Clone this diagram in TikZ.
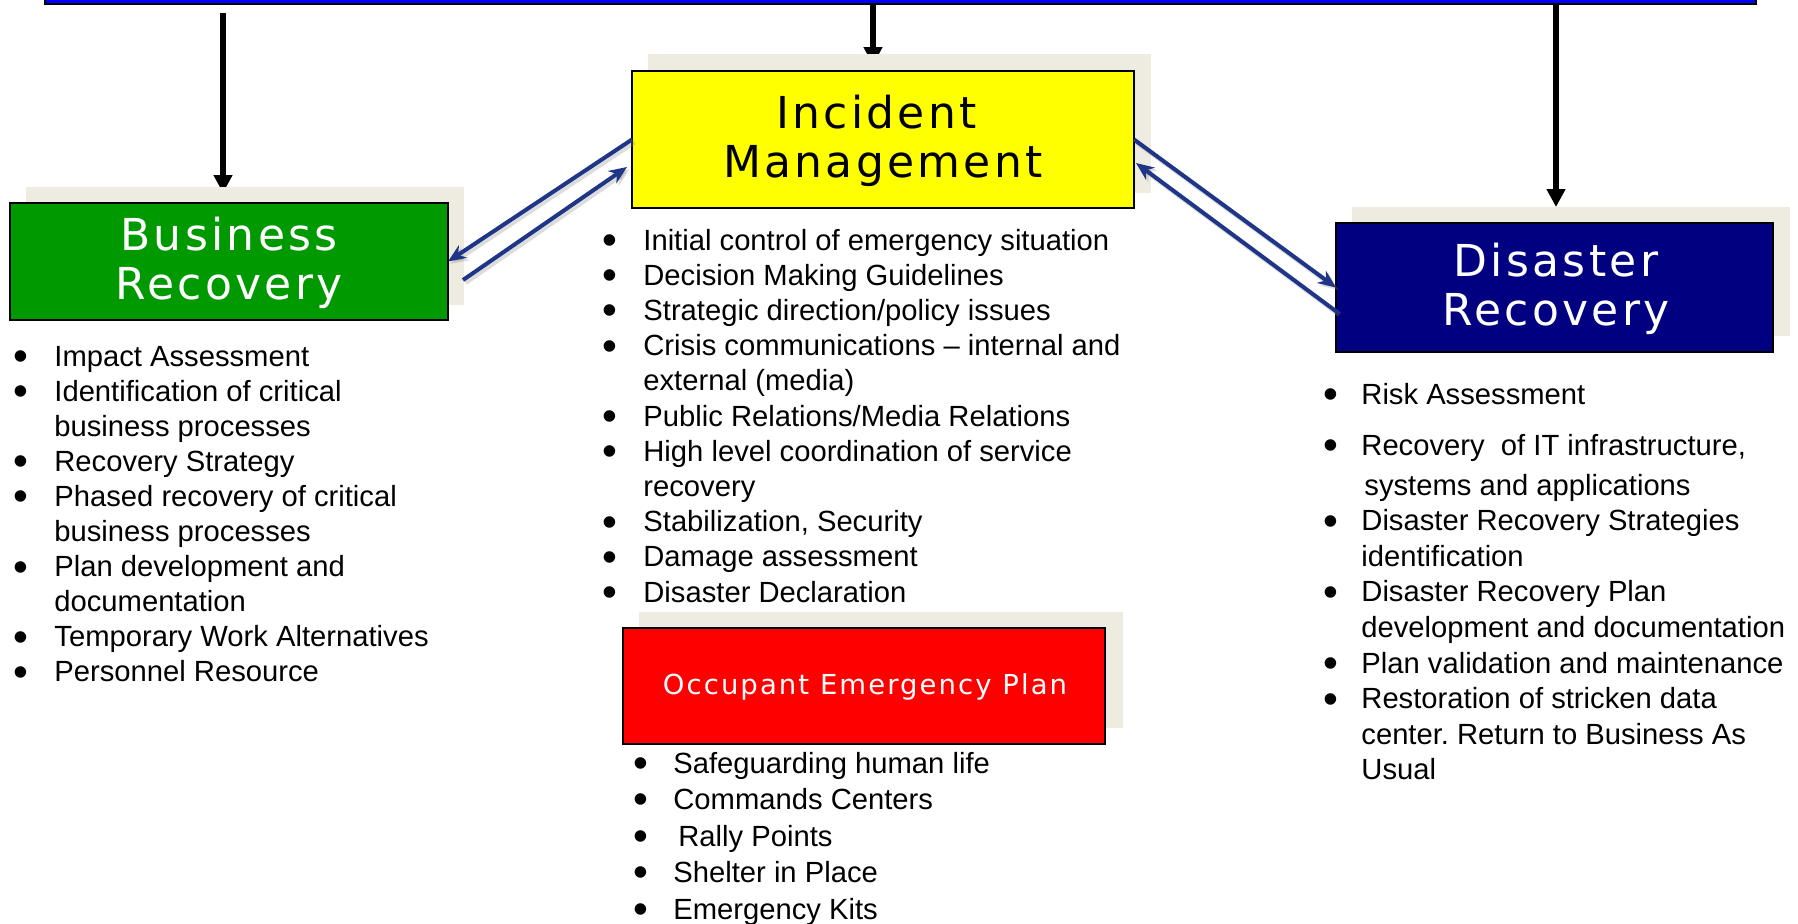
\documentclass[tikz,border=0pt]{standalone}
\usepackage{fontspec}
\setmainfont{Liberation Sans}
\newfontfamily\boxfont[LetterSpace=7.5]{DejaVu Sans}
\usetikzlibrary{arrows.meta,calc}
\definecolor{barblue}{RGB}{0,0,255}
\definecolor{brgreen}{RGB}{0,153,0}
\definecolor{imyellow}{RGB}{255,255,0}
\definecolor{drnavy}{RGB}{0,0,128}
\definecolor{oepred}{RGB}{255,0,0}
\definecolor{shadowgray}{RGB}{238,236,225}
\definecolor{arrowblue}{RGB}{31,53,135}
\newcommand{\bul}[1]{\makebox[#1][l]{\raisebox{-2.2pt}{\scalebox{1.45}{\textbullet}}}}
\frenchspacing
\begin{document}
\begin{tikzpicture}[x=0.5pt,y=-0.5pt,
  box/.style={draw=black,line width=1pt,inner sep=0pt,outer sep=0pt},
  shadowbox/.style={fill=shadowgray,inner sep=0pt,outer sep=0pt},
  blk/.style={line width=3pt,-{Triangle[width=9pt,length=9pt]}},
  bluearrow/.style={arrowblue,line width=2pt,-{Stealth[length=9pt,width=7.5pt]}},
  blueshadow/.style={black!45,opacity=0.3,line width=2.6pt,-{Stealth[length=9pt,width=7.5pt]},transform canvas={xshift=1.2pt,yshift=-1.2pt}},
  title/.style={inner sep=0pt,anchor=base,font=\boxfont\fontsize{22pt}{24.5pt}\selectfont},
  list/.style={inner sep=0pt,anchor=base west}
]
\useasboundingbox (0,0) rectangle (1798,923);
\clip (0,0) rectangle (1798,923);
\fill[white] (0,0) rectangle (1798,923);

% top bar
\node[draw=black,fill=barblue,line width=1pt,minimum width=855.5pt,minimum height=12pt,inner sep=0pt,outer sep=0pt] (bar) at (900.5,-8) {};

% shadows
\node[shadowbox,minimum width=219pt,minimum height=59pt] (brs) at (245,246) {};
\node[shadowbox,minimum width=251.5pt,minimum height=69.5pt] (ims) at (899.5,123.5) {};
\node[shadowbox,minimum width=219pt,minimum height=64.5pt] (drs) at (1571,271.5) {};
\node[shadowbox,minimum width=242pt,minimum height=58pt] (oeps) at (881,670) {};

% black arrows from the bar
\coordinate (xl) at (223,13);
\coordinate (xm) at (873,0);
\coordinate (xr) at (1556,0);
\draw[blk,shorten >=-3pt] (xl) -- (brs.north -| xl);
\draw[blk,shorten >=-5.5pt] (bar.south -| xm) -- (ims.north -| xm);
\draw[blk] (bar.south -| xr) -- (drs.north -| xr);

% shadow tops drawn again over the arrow tips
\node[shadowbox,minimum width=219pt,minimum height=59pt] (brs2) at (245,246) {};
\node[shadowbox,minimum width=251.5pt,minimum height=69.5pt] (ims2) at (899.5,123.5) {};

% boxes
\node[box,fill=brgreen,minimum width=219pt,minimum height=58.5pt] (br) at (229,261.5) {};
\node[box,fill=imyellow,minimum width=251pt,minimum height=68.5pt] (im) at (883,139.5) {};
\node[box,fill=drnavy,minimum width=218.5pt,minimum height=64.5pt] (dr) at (1554.5,287.5) {};
\node[box,fill=oepred,minimum width=241pt,minimum height=58pt] (oep) at (864,686) {};

% titles
\node[title,text=white] (brt) at (229,250) {\parbox[t]{210pt}{\centering Business\\Recovery}};
\node[title,text=black] (imt) at (883,128) {\parbox[t]{240pt}{\centering Incident\rule{6.5pt}{0pt}\\Management}};
\node[title,text=white] (drt) at (1556,276) {\parbox[t]{210pt}{\centering Disaster\\Recovery}};
\node[inner sep=0pt,anchor=base,text=white,font=\boxfont\fontsize{13.75pt}{16pt}\selectfont] (oept) at (865,694) {Occupant Emergency Plan};

% lists
\node[list] (brl) at (13.5,366) {\parbox[t]{300pt}{\fontsize{14.6pt}{17.55pt}\selectfont\raggedright
\bul{20.25pt}Impact Assessment\\
\bul{20.25pt}Identification of critical\\
\hspace*{20.25pt}business processes\\
\bul{20.25pt}Recovery Strategy\\
\bul{20.25pt}Phased recovery of critical\\
\hspace*{20.25pt}business processes\\
\bul{20.25pt}Plan development and\\
\hspace*{20.25pt}documentation\\
\bul{20.25pt}Temporary Work Alternatives\\
\bul{20.25pt}Personnel Resource}};

\node[list] (iml) at (602,250) {\parbox[t]{300pt}{\fontsize{14.6pt}{17.6pt}\selectfont\raggedright
\bul{20.5pt}Initial control of emergency situation\\
\bul{20.5pt}Decision Making Guidelines\\
\bul{20.5pt}Strategic direction/policy issues\\
\bul{20.5pt}Crisis communications -- internal and\\
\hspace*{20.5pt}external (media)\\
\bul{20.5pt}Public Relations/Media Relations\\
\bul{20.5pt}High level coordination of service\\
\hspace*{20.5pt}recovery\\
\bul{20.5pt}Stabilization, Security\\
\bul{20.5pt}Damage assessment\\
\bul{20.5pt}Disaster Declaration}};

\node[list] (drl) at (1323.5,404) {\parbox[t]{300pt}{\fontsize{14.6pt}{17.8pt}\selectfont\raggedright
\bul{18.75pt}Risk Assessment\\[7.7pt]
\bul{18.75pt}Recovery\ \ of IT infrastructure,\\[2.2pt]
\hspace*{20.25pt}systems and applications\\
\bul{18.75pt}Disaster Recovery Strategies\\
\hspace*{18.75pt}identification\\
\bul{18.75pt}Disaster Recovery Plan\\
\hspace*{18.75pt}development and documentation\\
\bul{18.75pt}Plan validation and maintenance\\
\bul{18.75pt}Restoration of stricken data\\
\hspace*{18.75pt}center. Return to Business As\\
\hspace*{18.75pt}Usual}};

\node[list] (oepl) at (633,773) {\parbox[t]{300pt}{\fontsize{14.6pt}{18.25pt}\selectfont\raggedright
\bul{20pt}Safeguarding human life\\
\bul{20pt}Commands Centers\\
\bul{20pt}\hspace*{2.5pt}Rally Points\\
\bul{20pt}Shelter in Place\\
\bul{20pt}Emergency Kits}};

% blue arrows between the boxes
\coordinate (a2s) at (463,280);
\coordinate (a2e) at (627,167);
\coordinate (a4s) at (1337,312);
\coordinate (a4e) at (1136,163);
\draw[blueshadow] (im.west) -- (br.east);
\draw[blueshadow] (a2s) -- (a2e);
\draw[blueshadow] (im.east) -- (dr.west);
\draw[blueshadow] (a4s) -- (a4e);
\draw[bluearrow] (im.west) -- (br.east);
\draw[bluearrow] (a2s) -- (a2e);
\draw[bluearrow] (im.east) -- (dr.west);
\draw[bluearrow] (a4s) -- (a4e);
\end{tikzpicture}
\end{document}
